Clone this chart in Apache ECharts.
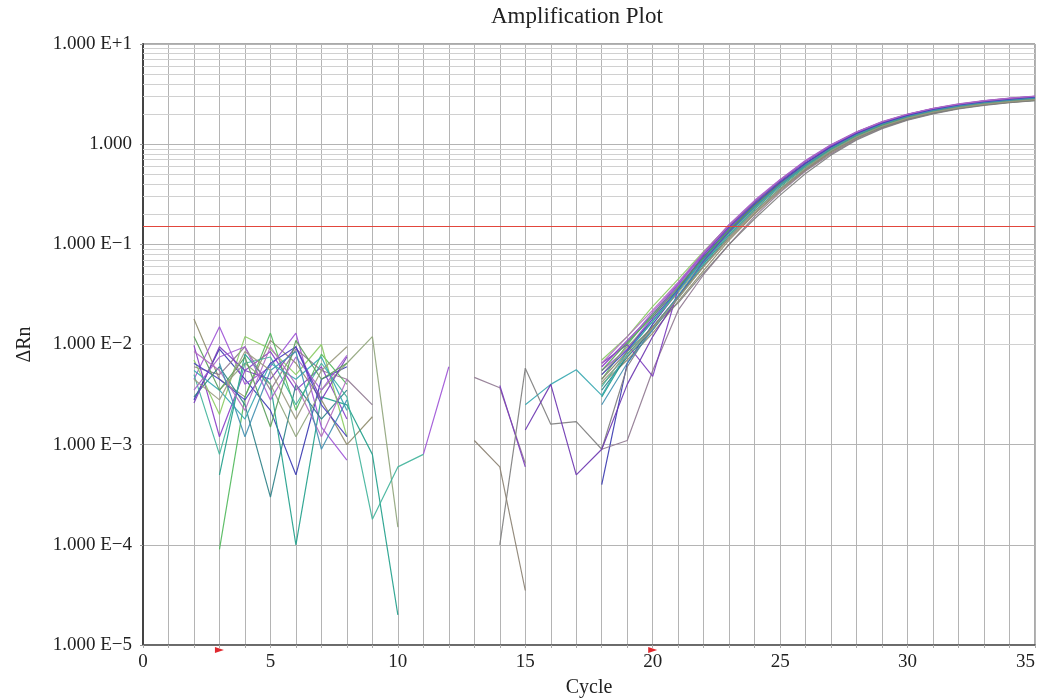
<!DOCTYPE html>
<html>
<head>
<meta charset="utf-8">
<title>Amplification Plot</title>
<script src="https://cdn.jsdelivr.net/npm/echarts@6/dist/echarts.min.js"></script>
<style>
  html, body { margin: 0; padding: 0; background: #fff; }
  #chart { width: 1040px; height: 699px; }
</style>
</head>
<body>
<div id="chart"></div>
<script>
// cycles 2..35, one value per cycle, null = no point (negative dRn)
const cycles = [2, 3, 4, 5, 6, 7, 8, 9, 10, 11, 12, 13, 14, 15, 16, 17, 18,
  19, 20, 21, 22, 23, 24, 25, 26, 27, 28, 29, 30, 31, 32, 33, 34, 35]

const xTicks = [0, 5, 10, 15, 20, 25, 30, 35]
const yDecades = [1e-5, 1e-4, 1e-3, 1e-2, 1e-1, 1, 10]
const minorSteps = [2, 3, 4, 5, 6, 7, 8, 9]
const threshold = 0.152
const baselineMarks = [3, 20]

const well01 = [0.0098, 0.0012, 0.0055, 0.0085, 0.0035, 0.006, 0.0018, null, null, null, null, null, null, null, null, null,
  0.006, 0.011, 0.02, 0.04, 0.082, 0.155, 0.27, 0.44, 0.68, 0.98, 1.32, 1.66, 1.98, 2.26, 2.5, 2.7, 2.86, 3.0]
const well02 = [0.0028, 0.009, 0.0045, 0.0022, 0.0005, 0.0045, 0.006, null, null, null, null, null, null, null, null, null,
  0.0004, 0.0065, 0.016, 0.034, 0.072, 0.14, 0.25, 0.41, 0.64, 0.93, 1.26, 1.6, 1.9, 2.17, 2.4, 2.6, 2.75, 2.9]
const well03 = [0.018, 0.0045, 0.003, 0.011, 0.0065, 0.0028, 0.001, 0.0019, null, null, null, null, null, null, null, null,
  0.004, 0.007, 0.013, 0.027, 0.055, 0.11, 0.2, 0.34, 0.55, 0.82, 1.14, 1.47, 1.77, 2.04, 2.28, 2.47, 2.62, 2.75]
const well04 = [null, 0.0005, 0.008, 0.004, 0.0001, 0.003, 0.0025, 0.0008, 0.00002, null, null, null, null, null, null, null,
  0.003, 0.008, 0.015, 0.03, 0.064, 0.125, 0.225, 0.375, 0.59, 0.87, 1.2, 1.53, 1.84, 2.1, 2.33, 2.52, 2.67, 2.8]
const well05 = [null, 0.00009, 0.003, 0.013, 0.0022, 0.008, 0.004, null, null, null, null, null, null, null, null, null,
  0.0045, 0.01, 0.02, 0.038, 0.075, 0.14, 0.24, 0.39, 0.6, 0.88, 1.2, 1.52, 1.82, 2.08, 2.3, 2.48, 2.62, 2.74]
const well06 = [0.0045, 0.015, 0.004, 0.006, 0.013, 0.0015, 0.0007, null, null, 0.0008, 0.006, null, null, null, null, null,
  0.0055, 0.009, 0.019, 0.039, 0.08, 0.15, 0.26, 0.43, 0.67, 0.97, 1.31, 1.65, 1.97, 2.25, 2.49, 2.68, 2.84, 2.98]
const well07 = [0.006, 0.005, 0.0095, 0.0035, 0.009, 0.0055, 0.0045, 0.0025, null, null, null, 0.0047, 0.0037, 0.00065, null, null,
  0.0009, 0.0011, 0.0055, 0.022, 0.05, 0.1, 0.19, 0.33, 0.54, 0.8, 1.12, 1.45, 1.76, 2.03, 2.27, 2.46, 2.61, 2.74]
const well08 = [0.007, 0.002, 0.012, 0.009, 0.005, 0.01, 0.0012, null, null, null, null, null, null, null, null, null,
  0.007, 0.012, 0.024, 0.045, 0.085, 0.155, 0.26, 0.42, 0.64, 0.92, 1.24, 1.56, 1.86, 2.12, 2.35, 2.53, 2.68, 2.8]
const well09 = [0.003, 0.006, 0.0025, 0.0003, 0.004, 0.0018, 0.0035, null, null, null, null, null, null, null, null, null,
  0.0035, 0.0075, 0.014, 0.029, 0.061, 0.12, 0.215, 0.36, 0.57, 0.85, 1.17, 1.5, 1.81, 2.08, 2.31, 2.5, 2.65, 2.78]
const well10 = [null, 0.0035, 0.0065, 0.004, 0.0012, 0.0035, 0.0065, 0.012, 0.00015, null, null, null, null, null, null, null,
  0.005, 0.0095, 0.017, 0.033, 0.068, 0.13, 0.23, 0.385, 0.6, 0.88, 1.2, 1.53, 1.84, 2.11, 2.34, 2.53, 2.68, 2.81]
const well11 = [0.005, 0.0008, 0.0065, 0.0075, 0.0025, 0.0065, 0.003, 0.00018, 0.0006, 0.0008, null, null, null, null, null, null,
  0.0038, 0.0085, 0.017, 0.035, 0.07, 0.135, 0.235, 0.39, 0.61, 0.89, 1.22, 1.55, 1.86, 2.13, 2.36, 2.55, 2.7, 2.83]
const well12 = [0.0026, 0.0095, 0.0055, 0.0045, 0.0095, 0.0028, 0.0075, null, null, null, null, null, 0.0039, 0.0006, null, null,
  0.0065, 0.01, 0.0048, 0.036, 0.078, 0.15, 0.265, 0.435, 0.675, 0.97, 1.31, 1.65, 1.97, 2.25, 2.49, 2.69, 2.85, 2.99]
const well13 = [0.0055, 0.0035, 0.0018, 0.0065, 0.0045, 0.0075, 0.0022, null, null, null, null, null, null, 0.0025, 0.004, 0.0056,
  0.0031, 0.0085, 0.017, 0.035, 0.07, 0.135, 0.235, 0.39, 0.61, 0.89, 1.22, 1.55, 1.86, 2.13, 2.36, 2.55, 2.7, 2.83]
const well14 = [null, null, null, null, null, null, null, null, null, null, null, null, 0.0001, 0.0058, 0.0016, 0.0017,
  0.0009, 0.006, 0.015, 0.026, 0.052, 0.1, 0.18, 0.31, 0.51, 0.78, 1.1, 1.43, 1.74, 2.01, 2.25, 2.44, 2.59, 2.72]
const well15 = [null, null, null, null, null, null, null, null, null, null, null, null, null, 0.0014, 0.004, 0.0005,
  0.0009, 0.004, 0.012, 0.03, 0.068, 0.135, 0.245, 0.41, 0.64, 0.94, 1.28, 1.62, 1.94, 2.22, 2.46, 2.66, 2.82, 2.96]
const well16 = [null, null, null, null, null, null, null, null, null, null, null, 0.0011, 0.0006, 0.000035, null, null,
  0.0045, 0.0085, 0.015, 0.03, 0.06, 0.115, 0.205, 0.35, 0.56, 0.84, 1.16, 1.49, 1.8, 2.07, 2.3, 2.49, 2.64, 2.77]
const well17 = [0.0035, 0.0075, 0.0095, 0.0028, 0.0075, 0.0035, 0.0078, null, null, null, null, null, null, null, null, null,
  0.006, 0.0105, 0.021, 0.041, 0.083, 0.158, 0.275, 0.445, 0.69, 0.99, 1.33, 1.68, 2.0, 2.28, 2.52, 2.72, 2.88, 3.02]
const well18 = [0.0065, 0.0045, 0.0028, 0.0065, 0.0095, 0.0025, 0.0012, null, null, null, null, null, null, null, null, null,
  0.005, 0.0088, 0.018, 0.036, 0.075, 0.145, 0.255, 0.42, 0.65, 0.94, 1.28, 1.62, 1.93, 2.21, 2.45, 2.64, 2.8, 2.94]
const well19 = [0.012, 0.0035, 0.0075, 0.0015, 0.011, 0.0045, 0.0065, null, null, null, null, null, null, null, null, null,
  0.0055, 0.0105, 0.019, 0.037, 0.074, 0.14, 0.245, 0.4, 0.62, 0.9, 1.23, 1.56, 1.87, 2.14, 2.37, 2.56, 2.71, 2.85]
const well20 = [0.0085, 0.0055, 0.0022, 0.0095, 0.004, 0.0012, 0.0045, null, null, null, null, null, null, null, null, null,
  0.0065, 0.012, 0.022, 0.042, 0.083, 0.156, 0.27, 0.44, 0.68, 0.98, 1.32, 1.67, 1.99, 2.27, 2.51, 2.71, 2.87, 3.01]
const well21 = [null, 0.0065, 0.0012, 0.0055, 0.0085, 0.0009, 0.0028, null, null, null, null, null, null, null, null, null,
  0.0025, 0.0065, 0.014, 0.031, 0.066, 0.13, 0.235, 0.395, 0.62, 0.91, 1.24, 1.58, 1.89, 2.16, 2.4, 2.59, 2.74, 2.88]
const well22 = [0.0045, 0.0028, 0.0085, 0.0055, 0.0018, 0.0055, 0.0095, null, null, null, null, null, null, null, null, null,
  0.0042, 0.0078, 0.0145, 0.029, 0.06, 0.118, 0.212, 0.36, 0.575, 0.86, 1.18, 1.51, 1.82, 2.09, 2.32, 2.51, 2.66, 2.79]

const wells = [
  ['A1', well01, '#8a3cc8'],
  ['A2', well02, '#3838b0'],
  ['A3', well03, '#8e8c6c'],
  ['A4', well04, '#1f9e8a'],
  ['A5', well05, '#4fb85a'],
  ['A6', well06, '#9d52d6'],
  ['A7', well07, '#8f7890'],
  ['A8', well08, '#8acb62'],
  ['A9', well09, '#2b7f86'],
  ['A10', well10, '#8fa47a'],
  ['A11', well11, '#3fb39a'],
  ['A12', well12, '#7a3bbd'],
  ['B1', well13, '#36a7b0'],
  ['B2', well14, '#7d7d7d'],
  ['B3', well15, '#6b35b0'],
  ['B4', well16, '#8a8070'],
  ['B5', well17, '#a45fd0'],
  ['B6', well18, '#4a3fc0'],
  ['B7', well19, '#5a9e5a'],
  ['B8', well20, '#b06ac0'],
  ['B9', well21, '#3f8fb0'],
  ['B10', well22, '#9a9a80']
]

const serif = 'Liberation Serif'

function toPairs(vals) {
  return vals.map((v, i) => [cycles[i], v == null ? '-' : v])
}

const minorValues = []
yDecades.slice(0, -1).forEach(d => {
  minorSteps.forEach(s => minorValues.push(d * s))
})

const chart = echarts.init(document.getElementById('chart'))

const series = [
  {
    // log minor grid lines
    type: 'line',
    data: [],
    silent: true,
    z: 1,
    markLine: {
      silent: true,
      symbol: 'none',
      z: 1,
      animation: false,
      label: { show: false },
      lineStyle: { color: '#d0d0d0', width: 1, type: 'solid' },
      data: minorValues.map(v => ({ yAxis: v }))
    }
  }
]

wells.forEach(w => {
  series.push({
    name: w[0],
    type: 'line',
    data: toPairs(w[1]),
    showSymbol: false,
    symbol: 'none',
    connectNulls: false,
    z: 3,
    lineStyle: { color: w[2], width: 1.2, opacity: 0.9 }
  })
})

series.push({
  // threshold and baseline markers
  type: 'line',
  data: [],
  z: 4,
  markLine: {
    silent: true,
    symbol: 'none',
    z: 4,
    label: { show: false },
    lineStyle: { color: '#e2463c', width: 1.2, type: 'solid' },
    data: [{ yAxis: threshold }]
  },
  markPoint: {
    symbol: 'triangle',
    symbolSize: [6, 9],
    symbolRotate: -90,
    symbolOffset: [0, 5],
    itemStyle: { color: '#e0282e' },
    label: { show: false },
    data: baselineMarks.map(c => ({ coord: [c, 1e-5] }))
  }
})

chart.setOption({
  animation: false,
  backgroundColor: '#fff',
  title: {
    text: 'Amplification Plot',
    left: 486,
    top: 0,
    textStyle: { fontFamily: serif, fontSize: 23, fontWeight: 'normal', color: '#222' }
  },
  grid: {
    left: 143,
    right: 5,
    top: 44,
    bottom: 54,
    outerBoundsMode: 'none',
    containLabel: false,
    show: true,
    borderColor: '#555',
    borderWidth: 1
  },
  xAxis: {
    type: 'value',
    min: 0,
    max: 35,
    interval: 1,
    name: 'Cycle',
    nameLocation: 'middle',
    nameGap: 33,
    nameTextStyle: { fontFamily: serif, fontSize: 20, color: '#222' },
    axisLine: { lineStyle: { color: '#555', width: 1.5 } },
    axisTick: { show: true, length: 3, lineStyle: { color: '#aaa' } },
    axisLabel: {
      fontFamily: serif,
      fontSize: 19,
      color: '#222',
      margin: 8,
      alignMaxLabel: 'right',
      formatter: v => (xTicks.indexOf(v) >= 0 ? String(v) : '')
    },
    splitLine: { show: true, lineStyle: { color: '#b4b4b4', width: 1 } }
  },
  yAxis: {
    type: 'log',
    logBase: 10,
    min: yDecades[0],
    max: yDecades[yDecades.length - 1],
    name: 'ΔRn',
    nameLocation: 'middle',
    nameGap: 108,
    nameRotate: 90,
    nameTextStyle: { fontFamily: serif, fontSize: 20, color: '#222' },
    axisLine: { show: true, lineStyle: { color: '#444', width: 2 } },
    axisTick: { show: true, length: 3, lineStyle: { color: '#999' } },
    axisLabel: {
      fontFamily: serif,
      fontSize: 19,
      color: '#222',
      margin: 11,
      formatter: v => {
        const e = Math.round(Math.log10(v))
        if (e === 0) return '1.000'
        return '1.000 E' + (e > 0 ? '+' : '\u2212') + Math.abs(e)
      }
    },
    splitLine: { show: true, lineStyle: { color: '#b4b4b4', width: 1 } }
  },
  series: series
})
</script>
</body>
</html>
